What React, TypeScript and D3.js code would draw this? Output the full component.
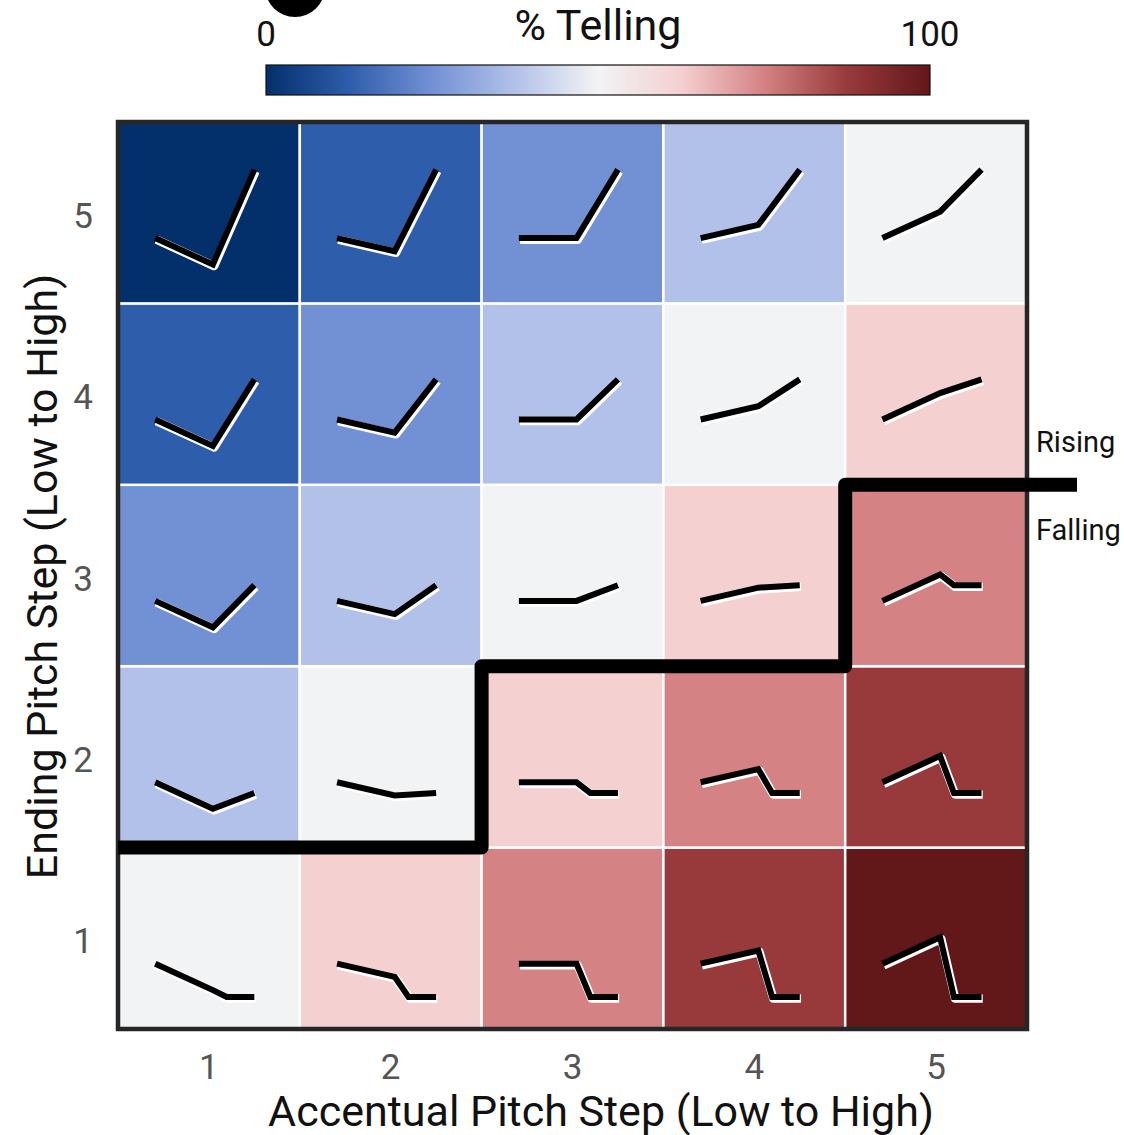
import React from 'react';
import * as d3 from 'd3';

// ---- data ----
const accentSteps = [1, 2, 3, 4, 5];
const endingSteps = [1, 2, 3, 4, 5];
// % Telling, indexed [endingStep-1][accentStep-1]
const tellingPct = [
  [50, 62, 75, 87, 98],
  [37, 50, 62, 75, 87],
  [25, 37, 50, 62, 75],
  [12, 25, 37, 50, 62],
  [2, 12, 25, 37, 50],
];
const paletteColors = ['#03306b', '#2e5dab', '#7291d4', '#b2c1e9', '#f2f3f5', '#f4d0d0', '#d48283', '#983a3b', '#621719'];
const colorbarTicks = [0, 100];
// relative pitch of the contour glyphs (start pitch = 0)
const accentPitch = [-2, -1, 0, 1, 2];
const endingPitch = [-2.52, -0.81, 1.19, 3.04, 5.19];
// rising / falling boundary (ending step) for each accent column
const boundaryRow = [1.5, 1.5, 2.5, 2.5, 3.5];
const regionLabels = ['Rising', 'Falling'];

const W = 1124;
const H = 1135;
const FONT = 'Roboto, "Noto Sans", sans-serif';

export default function App() {
  const x = d3.scaleLinear().domain([0.5, 5.5]).range([118, 1027]);
  const y = d3.scaleLinear().domain([0.5, 5.5]).range([1029, 122]);
  const color = d3.scaleQuantize<string>().domain([0, 100]).range(paletteColors);
  const cb = d3.scaleLinear().domain([0, 100]).range([266, 930]);
  const cw = x(1.5) - x(0.5);
  const ch = y(0.5) - y(1.5);

  const line = d3.line<[number, number]>().x((d) => d[0]).y((d) => d[1]);

  const glyph = (ai: number, ei: number) => {
    const left = x(accentSteps[ai] - 0.5);
    const top = y(endingSteps[ei] + 0.5);
    const gx = d3.scaleLinear().domain([0, 1]).range([left, left + cw]);
    const base = top + 0.64 * ch;
    const gy = d3.scaleLinear().domain([0, 1]).range([base, base - 13.2]);
    const a = accentPitch[ai];
    const e = endingPitch[ei];
    const pts: [number, number][] = [
      [gx(0.205), gy(0)],
      [gx(0.522), gy(a)],
    ];
    if (e < a) {
      pts.push([gx(0.598), gy(e)]);
      pts.push([gx(0.75), gy(e)]);
    } else {
      pts.push([gx(0.75), gy(e)]);
    }
    return line(pts) as string;
  };

  // staircase boundary
  const stairPts: [number, number][] = [];
  boundaryRow.forEach((b, i) => {
    const xs = x(accentSteps[i] - 0.5);
    const xe = x(accentSteps[i] + 0.5);
    stairPts.push([xs, y(b)]);
    stairPts.push([i === boundaryRow.length - 1 ? xe + 50 : xe, y(b)]);
  });

  const gradStops = paletteColors.map((c, i) => ({ off: i / (paletteColors.length - 1), c }));

  const cells: { ai: number; ei: number; v: number }[] = [];
  endingSteps.forEach((_, ei) => accentSteps.forEach((_, ai) => cells.push({ ai, ei, v: tellingPct[ei][ai] })));

  return (
    <svg width={W} height={H} style={{ position: 'fixed', left: 0, top: 0, background: '#fff' }} fontFamily={FONT}>
      <defs>
        <linearGradient id="cbgrad" x1="0" x2="1" y1="0" y2="0">
          {gradStops.map((s, i) => (
            <stop key={i} offset={s.off} stopColor={s.c} />
          ))}
        </linearGradient>
      </defs>
      <rect width={W} height={H} fill="#fff" />
      {/* partial black marker at top */}
      <circle cx={295} cy={-13} r={30} fill="#000" />

      {/* colorbar */}
      <text x={(cb(0) + cb(100)) / 2} y={40} fontSize={43} textAnchor="middle" fill="#111">% Telling</text>
      {colorbarTicks.map((t) => (
        <text key={t} x={cb(t)} y={46} fontSize={35} textAnchor="middle" fill="#111">{t}</text>
      ))}
      <rect x={cb(0)} y={65} width={cb(100) - cb(0)} height={30} fill="url(#cbgrad)" stroke="#111" strokeWidth={1.2} />

      {/* cells */}
      {cells.map((c) => (
        <rect
          key={`c${c.ai}-${c.ei}`}
          x={x(accentSteps[c.ai] - 0.5)}
          y={y(endingSteps[c.ei] + 0.5)}
          width={cw}
          height={ch}
          fill={color(c.v)}
          stroke="#fff"
          strokeWidth={2.5}
        />
      ))}

      {/* glyphs */}
      {cells.map((c) => {
        const d = glyph(c.ai, c.ei);
        return (
          <g key={`g${c.ai}-${c.ei}`}>
            <path d={d} transform="translate(1.2,1.6)" fill="none" stroke="#fff" strokeWidth={8.5} strokeLinejoin="round" />
            <path d={d} fill="none" stroke="#000" strokeWidth={6} strokeLinejoin="miter" />
          </g>
        );
      })}

      {/* frame */}
      <rect x={118} y={122} width={909} height={907} fill="none" stroke="#262626" strokeWidth={4.5} />

      {/* staircase */}
      <path d={line(stairPts) as string} fill="none" stroke="#000" strokeWidth={14} strokeLinejoin="round" strokeLinecap="butt" />
      <text x={1036} y={452} fontSize={29} fill="#111">{regionLabels[0]}</text>
      <text x={1036} y={540} fontSize={29} fill="#111">{regionLabels[1]}</text>

      {/* axes ticks */}
      {accentSteps.map((s) => (
        <text key={`xt${s}`} x={x(s)} y={1079} fontSize={35} textAnchor="middle" fill="#555">{s}</text>
      ))}
      {endingSteps.map((s) => (
        <text key={`yt${s}`} x={83} y={y(s) + 15} fontSize={35} textAnchor="middle" fill="#555">{s}</text>
      ))}

      {/* axis titles */}
      <text x={601} y={1126} fontSize={43} textAnchor="middle" fill="#111">Accentual Pitch Step (Low to High)</text>
      <text transform={`translate(57,${(122 + 1029) / 2 + 1}) rotate(-90)`} fontSize={43} textAnchor="middle" fill="#111">
        Ending Pitch Step (Low to High)
      </text>
    </svg>
  );
}
